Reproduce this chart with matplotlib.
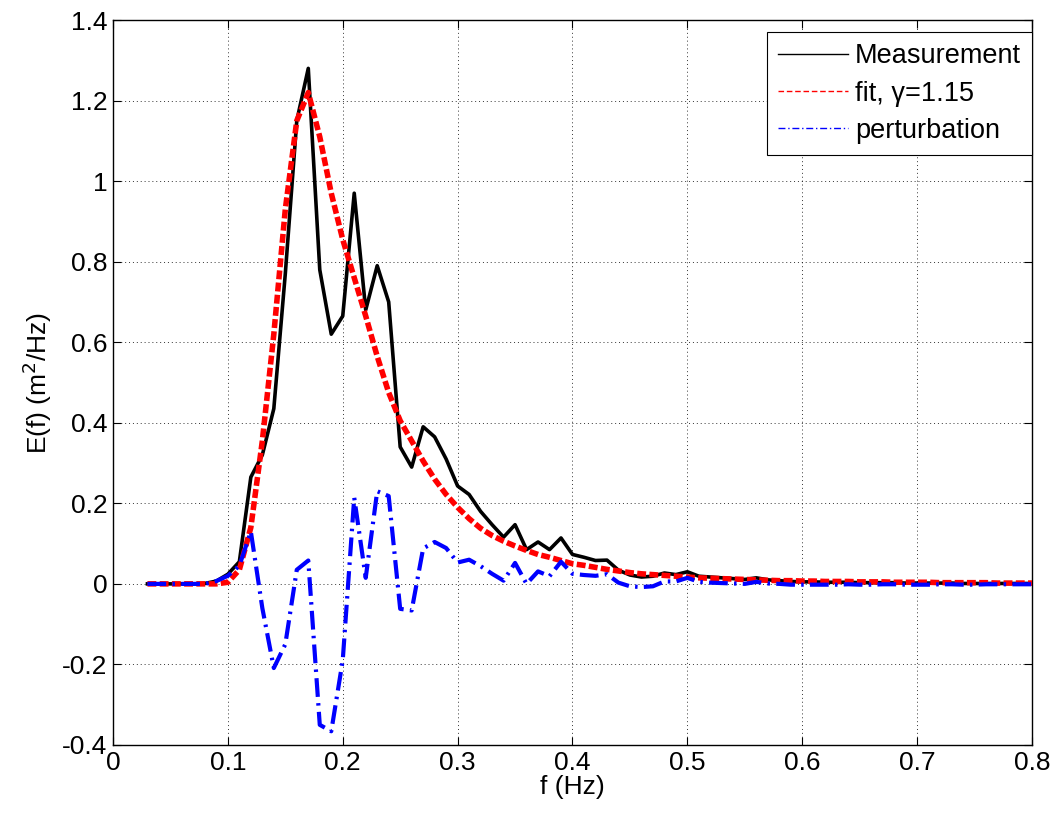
"""
Wave spectrum: measured vs fitted JONSWAP, with the perturbation term
"""
import numpy as np
import matplotlib
matplotlib.use('Agg')
import matplotlib.pyplot as plt
from matplotlib.lines import Line2D
from matplotlib.ticker import FuncFormatter, MultipleLocator

plt.rcParams['font.family'] = ['Liberation Sans', 'DejaVu Sans']

# ---- data (0.01 Hz steps from 0.03 to 0.80) ----
freq = np.round(np.arange(0.03, 0.805, 0.01), 2)

measurement = [
    0, 0, 0, 0, 0, 0.001, 0.007, 0.024, 0.055, 0.265,
    0.32, 0.435, 0.77, 1.15, 1.28, 0.78, 0.62, 0.665, 0.97, 0.68,
    0.79, 0.70, 0.34, 0.29, 0.39, 0.365, 0.31, 0.243, 0.222, 0.18,
    0.147, 0.116, 0.147, 0.085, 0.104, 0.085, 0.114, 0.073, 0.066, 0.058,
    0.059, 0.034, 0.022, 0.017, 0.019, 0.027, 0.023, 0.03, 0.019, 0.017,
    0.015, 0.013, 0.011, 0.015, 0.010, 0.008, 0.006, 0.005,
    0.005, 0.004, 0.004, 0.004, 0.003, 0.003, 0.003, 0.003, 0.002, 0.002,
    0.002, 0.002, 0.002, 0.001, 0.001, 0.001, 0.001, 0.001, 0.001, 0.001,
]

fit = [
    0, 0, 0, 0, 0, 0, 0, 0.004, 0.035, 0.14,
    0.355, 0.62, 0.93, 1.15, 1.22, 1.11, 0.97, 0.855, 0.76, 0.665,
    0.565, 0.475, 0.405, 0.355, 0.305, 0.26, 0.222, 0.19, 0.162, 0.138,
    0.12, 0.106, 0.094, 0.083, 0.073, 0.066, 0.058, 0.05, 0.046, 0.041,
    0.036, 0.032, 0.028, 0.025, 0.023, 0.021, 0.019, 0.017, 0.015, 0.014,
    0.013, 0.012, 0.011, 0.010, 0.009, 0.008, 0.008, 0.007,
    0.007, 0.006, 0.006, 0.006, 0.005, 0.005, 0.005, 0.004, 0.004, 0.004,
    0.004, 0.003, 0.003, 0.003, 0.003, 0.003, 0.002, 0.002, 0.002, 0.002,
]

perturbation = [
    0, 0, 0, 0, 0, 0, 0.007, 0.02, 0.045, 0.13,
    -0.06, -0.209, -0.15, 0.035, 0.058, -0.35, -0.366, -0.19, 0.214, 0.015,
    0.23, 0.218, -0.062, -0.066, 0.088, 0.104, 0.089, 0.053, 0.06, 0.044,
    0.025, 0.008, 0.052, 0.0, 0.031, 0.019, 0.055, 0.025, 0.022, 0.02,
    0.024, 0.003, -0.006, -0.008, -0.006, 0.006, 0.006, 0.015, 0.005, 0.003,
    0.002, 0.001, 0.0, 0.005, 0.001, 0.0, -0.002, -0.002,
    -0.002, -0.002, -0.002, -0.001, -0.002, -0.002, -0.001, -0.001, -0.002, -0.002,
    -0.002, -0.001, -0.001, -0.002, -0.002, -0.001, -0.001, -0.001, -0.001, -0.001,
]

labels = ['Measurement', 'fit, \u03b3=1.15', 'perturbation']

# ---- plot ----
fig = plt.figure(figsize=(10.52, 8.14), dpi=100)
ax = fig.add_axes([0.1074, 0.0848, 0.8736, 0.8906])

ax.plot(freq, measurement, '-', color='black', lw=2.6, zorder=3)
ax.plot(freq, fit, color='#ff0000', lw=4.0, linestyle=(0, (1.6, 0.6)), zorder=4)
ax.plot(freq, perturbation, color='#0000ff', lw=3.0,
        linestyle=(0, (4.5, 1.5, 0.6, 1.5)), zorder=5)

ax.set_xlim(0, 0.8)
ax.set_ylim(-0.4, 1.4)
ax.xaxis.set_major_locator(MultipleLocator(0.1))
ax.yaxis.set_major_locator(MultipleLocator(0.2))
fmt = FuncFormatter(lambda v, _: '%g' % round(v, 2))
ax.xaxis.set_major_formatter(fmt)
ax.yaxis.set_major_formatter(fmt)
ax.tick_params(direction='in', length=6, width=0.8, labelsize=19,
               top=True, right=True, pad=4)
ax.grid(True, linestyle=(0, (1, 3)), color='black', lw=0.7, alpha=0.8)
for sp in ax.spines.values():
    sp.set_linewidth(1.0)

ax.set_xlabel('f (Hz)', fontsize=19, labelpad=0)
ax.set_ylabel('E(f) (m$^2$/Hz)', fontsize=19, labelpad=6)

handles = [
    Line2D([], [], color='black', lw=1.0),
    Line2D([], [], color='#ff0000', lw=1.0, linestyle=(0, (4, 2))),
    Line2D([], [], color='#0000ff', lw=1.0, linestyle=(0, (5, 2, 1, 2))),
]
leg = ax.legend(handles, labels, loc='upper right', bbox_to_anchor=(1.0, 0.983),
                borderaxespad=0, fontsize=19.5, handlelength=2.6,
                handletextpad=0.25, labelspacing=0.42, borderpad=0.4,
                fancybox=False, framealpha=1.0, edgecolor='black')
leg.get_frame().set_linewidth(0.8)

plt.savefig('out.png', dpi=100, facecolor='white')
